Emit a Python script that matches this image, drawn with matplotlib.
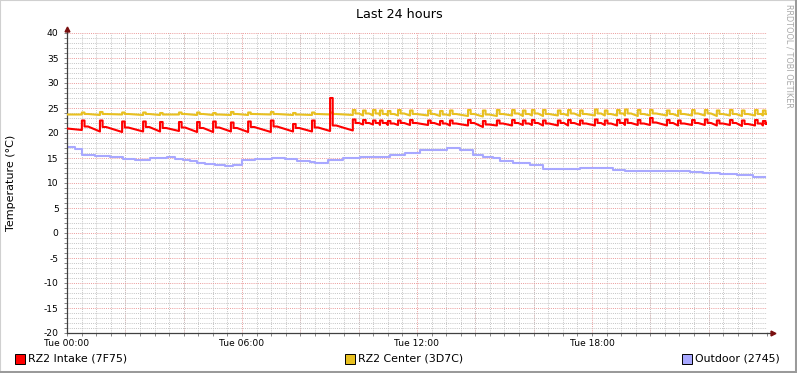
import matplotlib
matplotlib.use("Agg")
import matplotlib.pyplot as plt
from matplotlib.patches import Rectangle
from matplotlib.lines import Line2D
from matplotlib.ticker import MultipleLocator, FixedLocator

plt.rcParams["font.family"] = ["DejaVu Sans"]
plt.rcParams["axes.unicode_minus"] = False

W, H = 797, 373

# ---- data (hours since Tue 00:00, degrees C) ----
spike_h = [0.51, 1.13, 1.89, 2.61, 3.19, 3.84, 4.46, 5.01, 5.62, 6.21, 6.99, 7.75,
           8.40, 9.02, 9.80, 10.15, 10.49, 10.73, 11.00, 11.35, 11.76, 12.38, 12.79,
           13.13, 13.75, 14.26, 14.74, 15.26, 15.63, 15.94, 16.32, 16.83, 17.18, 17.59,
           18.10, 18.44, 18.86, 19.13, 19.57, 19.99, 20.57, 20.95, 21.43, 21.87, 22.28,
           22.73, 23.14, 23.59, 23.86]

intake_start, intake_end = 20.9, 21.9
intake_peak = [22.5, 22.5, 22.3, 22.3, 22.2, 22.2, 22.2, 22.3, 22.1, 22.3, 22.5, 21.8,
               22.5, 27.0, 22.7, 22.6, 22.5, 22.5, 22.4, 22.5, 22.6, 22.5, 22.4, 22.5,
               22.6, 22.4, 22.5, 22.6, 22.5, 22.6, 22.5, 22.5, 22.6, 22.5, 22.7, 22.5,
               22.6, 22.7, 22.6, 23.0, 22.6, 22.5, 22.6, 22.7, 22.5, 22.6, 22.5, 22.6, 22.4]
intake_after = [21.3, 21.2, 21.1, 21.2, 21.0, 21.1, 21.0, 21.1, 21.0, 21.2, 21.3, 21.0,
                21.1, 21.5, 22.0, 22.0, 22.0, 22.0, 21.9, 22.0, 22.0, 22.0, 21.9, 21.9,
                22.0, 21.7, 21.9, 22.0, 21.9, 22.0, 21.9, 22.0, 22.0, 21.9, 22.0, 21.9,
                22.0, 22.0, 21.9, 22.1, 22.0, 21.9, 22.0, 22.0, 21.9, 22.0, 21.8, 21.9, 21.9]
intake_trough = [20.6, 20.3, 20.2, 20.3, 20.3, 20.4, 20.2, 20.2, 20.3, 20.2, 20.2, 20.3,
                 20.3, 20.4, 20.5, 21.7, 21.7, 21.6, 21.6, 21.6, 21.6, 21.6, 21.6, 21.5,
                 21.5, 21.2, 21.5, 21.5, 21.6, 21.6, 21.5, 21.5, 21.5, 21.6, 21.5, 21.6,
                 21.5, 21.6, 21.6, 21.6, 21.5, 21.5, 21.6, 21.6, 21.5, 21.6, 21.4, 21.5, 21.5]

center_start, center_end = 23.7, 23.8
center_peak = [24.1, 24.2, 24.1, 24.1, 24.0, 24.1, 24.1, 24.0, 24.2, 24.1, 24.2, 24.0,
               24.1, 24.1, 24.6, 24.5, 24.6, 24.5, 24.4, 24.6, 24.5, 24.5, 24.4, 24.5,
               24.6, 24.5, 24.6, 24.6, 24.5, 24.6, 24.6, 24.5, 24.6, 24.5, 24.7, 24.5,
               24.6, 24.7, 24.6, 24.6, 24.5, 24.5, 24.6, 24.6, 24.5, 24.6, 24.5, 24.6, 24.5]
center_after = [23.8, 23.8, 23.8, 23.8, 23.7, 23.8, 23.8, 23.7, 23.8, 23.8, 23.8, 23.7,
                23.8, 23.8, 23.9, 23.9, 23.9, 23.8, 23.8, 23.9, 23.8, 23.8, 23.7, 23.8,
                23.8, 23.7, 23.8, 23.9, 23.8, 23.9, 23.8, 23.8, 23.9, 23.8, 23.9, 23.8,
                23.9, 23.9, 23.8, 23.9, 23.8, 23.8, 23.9, 23.9, 23.8, 23.8, 23.8, 23.8, 23.8]
center_trough = [23.7, 23.6, 23.7, 23.6, 23.6, 23.7, 23.6, 23.6, 23.6, 23.6, 23.7, 23.6,
                 23.6, 23.7, 23.6, 23.5, 23.5, 23.5, 23.5, 23.5, 23.5, 23.5, 23.4, 23.5,
                 23.4, 23.3, 23.4, 23.5, 23.4, 23.5, 23.4, 23.5, 23.5, 23.4, 23.5, 23.5,
                 23.5, 23.5, 23.4, 23.5, 23.5, 23.4, 23.5, 23.5, 23.4, 23.5, 23.4, 23.5, 23.5]

outdoor_h = [0.00, 0.27, 0.51, 0.96, 1.47, 1.92, 2.33, 2.85, 3.19, 3.43, 3.70, 3.98,
             4.22, 4.46, 4.73, 5.07, 5.42, 5.69, 5.99, 6.45, 7.03, 7.47, 7.88, 8.33,
             8.50, 8.95, 9.46, 10.05, 10.49, 11.07, 11.59, 12.10, 12.79, 13.03, 13.47,
             13.92, 14.26, 14.61, 14.85, 15.29, 15.87, 16.32, 17.59, 18.72, 19.13, 20.33,
             21.36, 21.80, 22.39, 22.97, 23.52, 23.93]
outdoor = [17.3, 16.9, 15.6, 15.5, 15.2, 14.8, 14.7, 15.0, 15.1, 15.3, 14.9, 14.6,
           14.4, 14.0, 13.9, 13.6, 13.5, 13.6, 14.7, 14.9, 15.0, 14.8, 14.5, 14.2,
           14.1, 14.7, 15.0, 15.2, 15.3, 15.7, 16.1, 16.6, 16.7, 17.0, 16.6, 15.7,
           15.3, 15.0, 14.5, 14.0, 13.7, 12.8, 13.0, 12.7, 12.4, 12.4, 12.3, 12.0,
           11.9, 11.7, 11.3, 11.3]

x_labels = ["Tue 00:00", "Tue 06:00", "Tue 12:00", "Tue 18:00"]


def spiky(start, end, peaks, after, trough, hold=0.09, shoulder=0.12):
    # step up at each spike, hold the peak, drop to a shoulder, then ease down
    xs, ys = [0.0], [start]
    for i, t in enumerate(spike_h):
        xs += [t, t, t + hold, t + hold, t + hold + shoulder]
        ys += [trough[i], peaks[i], peaks[i], after[i], after[i]]
    xs.append(24.0 - 0.05)
    ys.append(end)
    return xs, ys


fig = plt.figure(figsize=(W / 100, H / 100), dpi=100, facecolor="white")
L, R, T, B = 67, 767, 33, 333
ax = fig.add_axes([L / W, 1 - B / H, (R - L) / W, (B - T) / H])
ax.set_xlim(0, 24)
ax.set_ylim(-20, 40)

MINOR_C, MAJOR_C = "#c4c4c4", "#eb9a9a"
DOT = (0, (1, 1.2))

ax.yaxis.set_major_locator(MultipleLocator(5))
ax.yaxis.set_minor_locator(MultipleLocator(1))
ax.set_xticks([0, 6, 12, 18])
ax.set_xticklabels(x_labels)
ax.xaxis.set_minor_locator(FixedLocator([h / 2 for h in range(49)]))
ax.grid(which="minor", color=MINOR_C, linewidth=0.7, linestyle=DOT)
ax.grid(which="major", axis="y", color=MAJOR_C, linewidth=0.7, linestyle=DOT)
ax.set_axisbelow(True)
# major red vertical grid every 2 hours
for h in range(2, 24, 2):
    ax.axvline(h, color=MAJOR_C, linewidth=0.7, linestyle=DOT, zorder=0.5)

ax.tick_params(axis="both", which="both", length=2, width=0.7, color="#888888",
               labelsize=6.6, labelcolor="black")
ax.tick_params(axis="y", which="major", pad=4)
ax.tick_params(axis="x", which="major", pad=2)

for s in ["top", "right"]:
    ax.spines[s].set_visible(False)
for s in ["left", "bottom"]:
    ax.spines[s].set_color("#404040")
    ax.spines[s].set_linewidth(0.9)

# axis arrows
ax.add_line(Line2D([24, 24.18], [-20, -20], color="#404040", lw=0.9, clip_on=False))
ax.plot([24.2], [-20], marker=">", color="#7a0f0f", markersize=3.5, clip_on=False)
ax.add_line(Line2D([0, 0], [40, 40.8], color="#404040", lw=0.9, clip_on=False))
ax.plot([0], [40.8], marker="^", color="#7a0f0f", markersize=3.5, clip_on=False)

# series
xs, ys = spiky(center_start, center_end, center_peak, center_after, center_trough)
ax.plot(xs, ys, color="#E8C020", linewidth=1.5, zorder=3)
xs, ys = spiky(intake_start, intake_end, intake_peak, intake_after, intake_trough)
ax.plot(xs, ys, color="#FF0000", linewidth=1.5, zorder=4)
ax.plot(outdoor_h, outdoor, color="#A8A8FF", linewidth=1.5, zorder=2,
        drawstyle="steps-post")


def fx(x):
    return x / W


def fy(y):
    return 1 - y / H


fig.text(fx(399), fy(14), "Last 24 hours", ha="center", va="center", fontsize=9.2)
fig.text(fx(11), fy(183), "Temperature (°C)", ha="center", va="center",
         rotation=90, fontsize=8.0)
fig.text(fx(789), fy(4), "RRDTOOL / TOBI OETIKER", ha="center", va="top",
         rotation=270, fontsize=5.9, color="#a8a8a8")

legend = [(15, "#FF0000", "RZ2 Intake (7F75)"),
          (345, "#E8C020", "RZ2 Center (3D7C)"),
          (682, "#A8A8FF", "Outdoor (2745)")]
for x0, c, lab in legend:
    fig.add_artist(Rectangle((fx(x0), fy(364)), 10 / W, 10 / H, facecolor=c,
                             edgecolor="black", linewidth=0.7, transform=fig.transFigure))
    fig.text(fx(x0 + 13), fy(358.5), lab, ha="left", va="center", fontsize=7.9)

# image border (rrdtool shade)
fig.add_artist(Line2D([0, 0, 1], [0, 1, 1], color="#d0d0d0", lw=1.5,
                      transform=fig.transFigure))
fig.add_artist(Line2D([fx(1), 1 - 1.5 / W, 1 - 1.5 / W], [1.5 / H, 1.5 / H, 1],
                      color="#9a9a9a", lw=2.2, transform=fig.transFigure))

fig.savefig("out.png", dpi=100, facecolor="white")
